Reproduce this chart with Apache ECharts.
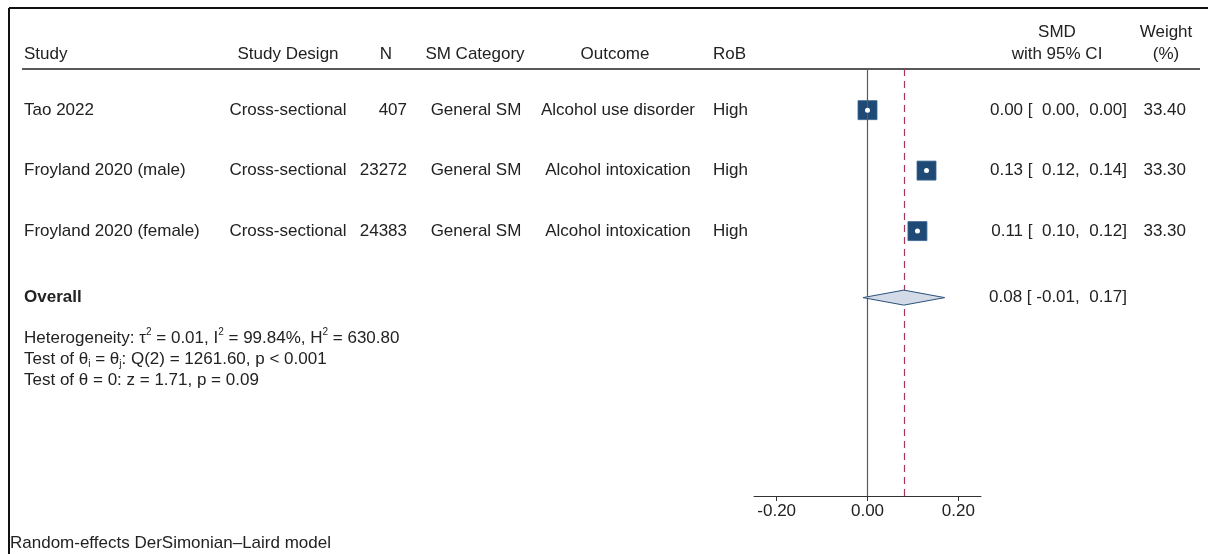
<!DOCTYPE html>
<html>
<head>
<meta charset="utf-8">
<script src="https://cdn.jsdelivr.net/npm/echarts@6/dist/echarts.min.js"></script>
<style>
html,body{margin:0;padding:0;background:#fff;}
#chart{width:1208px;height:554px;}
</style>
</head>
<body>
<div id="chart"></div>
<script>
// ---- data ----
const studies = ['Tao 2022', 'Froyland 2020 (male)', 'Froyland 2020 (female)'];
const designs = ['Cross-sectional', 'Cross-sectional', 'Cross-sectional'];
const sampleN = [407, 23272, 24383];
const smCategory = ['General SM', 'General SM', 'General SM'];
const outcomes = ['Alcohol use disorder', 'Alcohol intoxication', 'Alcohol intoxication'];
const rob = ['High', 'High', 'High'];
const smd = [0.00, 0.13, 0.11];
const ciLow = [0.00, 0.12, 0.10];
const ciHigh = [0.00, 0.14, 0.12];
const weights = [33.40, 33.30, 33.30];
const rowPos = [1, 2, 3];
const overallSMD = 0.08;
const overallCI = [-0.01, 0.17];
const overallRow = 4.1;
const xTicks = [-0.20, 0.00, 0.20];
const headers = ['Study', 'Study Design', 'N', 'SM Category', 'Outcome', 'RoB'];
const statLines = [
  'Heterogeneity: τ{sup|2} = 0.01, I{sup|2} = 99.84%, H{sup|2} = 630.80',
  'Test of θ{sub|i} = θ{sub|j}: Q(2) = 1261.60, p < 0.001',
  'Test of θ = 0: z = 1.71, p = 0.09'
];
const footer = 'Random-effects DerSimonian–Laird model';

// ---- style ----
const FONT = '"Liberation Sans", Arial, sans-serif';
const FS = 17;
const TXT = '#222';
const NAVY = '#1f4a76';

function pad5(v) { let s = v.toFixed(2); while (s.length < 5) s = ' ' + s; return s; }
function ciText(e, lo, hi) { return e.toFixed(2) + ' [ ' + pad5(lo) + ', ' + pad5(hi) + ']'; }

const chart = echarts.init(document.getElementById('chart'), null, {renderer: 'canvas'});

const option = {
  animation: false,
  backgroundColor: '#fff',
  grid: {left: 754, right: 227, top: 69, bottom: 58},
  xAxis: {
    type: 'value', min: -0.25, max: 0.25,
    axisLine: {show: true, lineStyle: {color: '#333', width: 1}},
    axisTick: {show: true, length: 5, customValues: xTicks, lineStyle: {color: '#333'}},
    axisLabel: {customValues: xTicks, formatter: v => v.toFixed(2), fontSize: FS, fontFamily: FONT, color: TXT, margin: 7},
    splitLine: {show: false}
  },
  yAxis: {type: 'value', inverse: true, min: 0.32, max: 7.38, show: false},
  series: [
    {
      type: 'custom', name: 'ci', silent: true,
      data: rowPos.map((r, i) => [ciLow[i], ciHigh[i], r]),
      renderItem: function (params, api) {
        const a = api.coord([api.value(0), api.value(2)]);
        const b = api.coord([api.value(1), api.value(2)]);
        return {type: 'line', shape: {x1: a[0], y1: a[1], x2: b[0], y2: b[1]}, style: {stroke: NAVY, lineWidth: 1.5}};
      },
      z: 3,
      markLine: {
        silent: true, symbol: 'none', label: {show: false},
        data: [
          {xAxis: 0, lineStyle: {color: '#5a5a5a', width: 1.2, type: 'solid'}},
          {xAxis: overallSMD, lineStyle: {color: '#a3385f', width: 1.2, type: [7, 5]}}
        ]
      }
    },
    {
      type: 'scatter', name: 'studies', silent: true,
      data: rowPos.map((r, i) => [smd[i], r]),
      symbol: 'rect', symbolSize: 19,
      itemStyle: {color: NAVY, borderColor: '#3b6690', borderWidth: 0.8, opacity: 1},
      z: 4
    },
    {
      type: 'scatter', name: 'points', silent: true,
      data: rowPos.map((r, i) => [smd[i], r]),
      symbol: 'circle', symbolSize: 5,
      itemStyle: {color: '#fff', opacity: 1},
      z: 5
    },
    {
      type: 'custom', name: 'overall', silent: true,
      data: [[overallCI[0], overallSMD, overallCI[1], overallRow]],
      renderItem: function (params, api) {
        const y = api.value(3);
        const l = api.coord([api.value(0), y]);
        const c = api.coord([api.value(1), y]);
        const r = api.coord([api.value(2), y]);
        const h = 7.5;
        return {type: 'polygon', shape: {points: [[l[0], l[1]], [c[0], c[1] - h], [r[0], r[1]], [c[0], c[1] + h]]},
          style: {fill: '#d3dbe8', stroke: '#2a5179', lineWidth: 1}};
      },
      z: 6
    }
  ]
};
chart.setOption(option);

// ---- table text (positions from the chart's y scale) ----
function yOf(r) { return chart.convertToPixel({yAxisIndex: 0}, r); }
function txt(x, y, text, align, extra) {
  return Object.assign({
    type: 'text', x: x, y: y, silent: true,
    style: Object.assign({text: text, fontSize: FS, fontFamily: FONT, fill: TXT, align: align, verticalAlign: 'middle'}, extra || {})
  });
}
const g = [];
// frame
g.push({type: 'line', silent: true, shape: {x1: 9, y1: 8, x2: 1208, y2: 8}, style: {stroke: '#111', lineWidth: 2}});
g.push({type: 'line', silent: true, shape: {x1: 9, y1: 8, x2: 9, y2: 554}, style: {stroke: '#111', lineWidth: 2}});
g.push({type: 'line', silent: true, shape: {x1: 22, y1: 69, x2: 1200, y2: 69}, style: {stroke: '#222', lineWidth: 1.5}});
// headers
const HY = 54;
g.push(txt(24, HY, headers[0], 'left'));
g.push(txt(288, HY, headers[1], 'center'));
g.push(txt(386, HY, headers[2], 'center'));
g.push(txt(475, HY, headers[3], 'center'));
g.push(txt(615, HY, headers[4], 'center'));
g.push(txt(713, HY, headers[5], 'left'));
g.push(txt(1057, 32, 'SMD', 'center'));
g.push(txt(1057, HY, 'with 95% CI', 'center'));
g.push(txt(1166, 32, 'Weight', 'center'));
g.push(txt(1166, HY, '(%)', 'center'));
// rows
rowPos.forEach((r, i) => {
  const y = yOf(r);
  g.push(txt(24, y, studies[i], 'left'));
  g.push(txt(288, y, designs[i], 'center'));
  g.push(txt(407, y, String(sampleN[i]), 'right'));
  g.push(txt(476, y, smCategory[i], 'center'));
  g.push(txt(618, y, outcomes[i], 'center'));
  g.push(txt(713, y, rob[i], 'left'));
  g.push(txt(1127, y, ciText(smd[i], ciLow[i], ciHigh[i]), 'right'));
  g.push(txt(1186, y, weights[i].toFixed(2), 'right'));
});
const oy = yOf(overallRow);
g.push(txt(24, oy, 'Overall', 'left', {fontWeight: 'bold'}));
g.push(txt(1127, oy, ciText(overallSMD, overallCI[0], overallCI[1]), 'right'));
// stats
const rich = {
  sup: {fontSize: 10, fontFamily: FONT, fill: TXT, lineHeight: 10, verticalAlign: 'top'},
  sub: {fontSize: 10, fontFamily: FONT, fill: TXT, lineHeight: 8, verticalAlign: 'bottom'}
};
statLines.forEach((s, i) => {
  g.push(txt(24, 338 + i * 21, s, 'left', {rich: rich, lineHeight: 21}));
});
g.push(txt(10, 543, footer, 'left'));

chart.setOption({graphic: {elements: g}});
</script>
</body>
</html>
